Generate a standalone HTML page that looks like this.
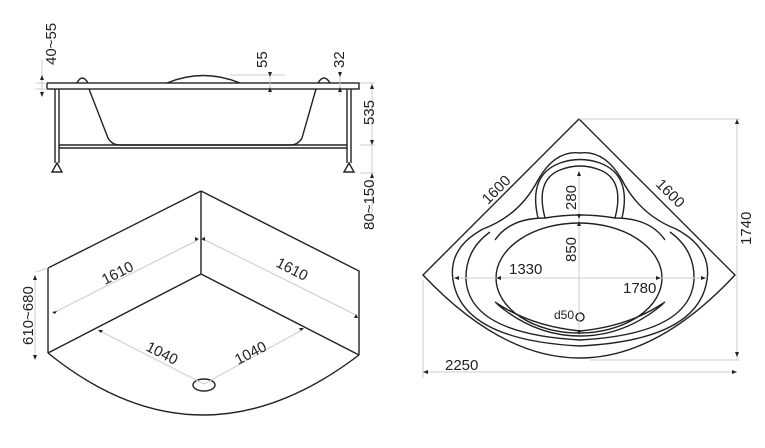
<!DOCTYPE html>
<html><head><meta charset="utf-8"><style>
html,body{margin:0;padding:0;background:#fff;}
svg{display:block;}
text{font-family:"Liberation Sans",sans-serif;font-size:15px;fill:#222;}
.l{stroke:#222;stroke-width:1.4;fill:none;}
.d{stroke:#ccc;stroke-width:1;fill:none;}
.a{fill:#222;}
</style></head><body>
<svg width="765" height="448" viewBox="0 0 765 448" xmlns="http://www.w3.org/2000/svg">
<!-- Side view -->
<rect class="l" x="47" y="83" width="312" height="6"/>
<path class="l" d="M77,83 Q82,73 88,83 M167,83 Q203,68 240,83 M318,83 Q324,73 330,83"/>
<path class="l" d="M89,89 L108,138 Q112,145 120,145 L290,145 Q298,145 302,138 L316,89"/>
<path class="l" d="M55,89 V163 M59,89 V163 M347,89 V163 M351,89 V163"/>
<path class="l" d="M59,145 H347 M59,148 H347"/>
<path class="l" d="M52,172 L57,163 L62,172 Z M344,172 L349,163 L354,172 Z"/>
<path class="d" d="M36,83 H47 M36,89 H47 M230,75 H285 M270,75 V95 M340,75 V95 M360,83 H375 M360,145 H375 M360,173 H375 M372,83 V230 M42,60 V95"/>
<path class="a" d="M40,80 l2,-5 l2,5z M40,92 l2,5 l2,-5z M268,72 l2,5 l2,-5z M268,92 l2,-5 l2,5z M338,72 l2,5 l2,-5z M338,92 l2,-5 l2,5z M370,89 l2,-5 l2,5z M370,140 l2,5 l2,-5z M370,178 l2,-5 l2,5z"/>
<text transform="translate(56,65) rotate(-90)">40~55</text>
<text transform="translate(267,68) rotate(-90)">55</text>
<text transform="translate(344,68) rotate(-90)">32</text>
<text transform="translate(374,125) rotate(-90)">535</text>
<text transform="translate(374,230) rotate(-90)">80~150</text>
<!-- Iso view -->
<path class="l" d="M201,191 V274 M201,191 L48,268 V353 M201,191 L359,271 V355 M201,274 L48,353 M201,274 L359,355 M48,353 Q200,476 359,355"/>
<ellipse class="l" cx="204" cy="385" rx="11" ry="6"/>
<path class="d" d="M53,313 L198,240 M205,240 L358,316 M98,330 L204,384 L302,330 M35,275 V355 M36,272 L48,268"/>
<path class="a" d="M195,237 l4,2 l-4,2z M205,237 l-4,2 l4,2z M52,312 l5,-1 l-2,3z M358,318 l-2,-4 l-2,4z M98,330 l5,0 l-2,3z M304,328 l-5,0 l2,3z M33,280 l2,-5 l2,5z M33,355 l2,5 l2,-5z"/>
<text transform="translate(105,285) rotate(-27)">1610</text>
<text transform="translate(275,266) rotate(27)">1610</text>
<text transform="translate(145,350) rotate(27)">1040</text>
<text transform="translate(238,365) rotate(-27)">1040</text>
<text transform="translate(33,345) rotate(-90)">610~680</text>
<!-- Plan view -->
<path class="l" d="M579,119 L423,275 Q580,441 735,275 Z"/>
<path class="l" d="M483,229 Q448,248 453,280 Q462,340 580,346 Q698,340 707,280 Q712,248 676,229 Q640,215 622,180 Q605,150 580,153 Q555,150 538,180 Q520,215 483,229 Z"/>
<path class="l" d="M490,232 Q465,250 466,280 Q470,334 580,340 Q690,334 694,280 Q695,250 670,232"/>
<path class="l" d="M545,218 Q535,180 560,170 Q580,162 600,170 Q625,180 615,218"/>
<path class="l" d="M538,218 Q528,175 560,163 Q580,156 600,163 Q632,175 622,218"/>
<path class="l" d="M495,240 Q510,218 545,218 Q580,212 615,218 Q650,218 665,240"/>
<path class="l" d="M495,302 Q530,326 580,331 Q630,326 665,302 M497,304 Q535,336 580,336 Q625,336 663,304"/>
<ellipse class="l" cx="579" cy="278" rx="83" ry="55"/>
<circle class="l" cx="580" cy="317" r="4"/>
<path class="d" d="M579,119 H740 M737,119 V360 M590,360 H740 M423,280 V378 M423,372 H737 M455,278 H705 M579,172 V334"/>
<path class="a" d="M735,124 l2,-5 l2,5z M735,352 l2,5 l2,-5z M428,370 l-5,2 l5,2z M732,370 l5,2 l-5,2z M577,176 l2,-5 l2,5z M577,214 l2,5 l2,-5z M577,226 l2,-5 l2,5z M577,330 l2,5 l2,-5z M501,276 l-5,2 l5,2z M656,276 l5,2 l-5,2z M459,276 l-5,2 l5,2z M701,276 l5,2 l-5,2z"/>
<text transform="translate(488,205) rotate(-45)">1600</text>
<text transform="translate(655,185) rotate(45)">1600</text>
<text transform="translate(751,245) rotate(-90)">1740</text>
<text transform="translate(576,210) rotate(-90)">280</text>
<text transform="translate(576,262) rotate(-90)">850</text>
<text x="509" y="274">1330</text>
<text x="623" y="293">1780</text>
<text x="554" y="319" style="font-size:12px">d50</text>
<text x="445" y="370">2250</text>
</svg>
</body></html>
